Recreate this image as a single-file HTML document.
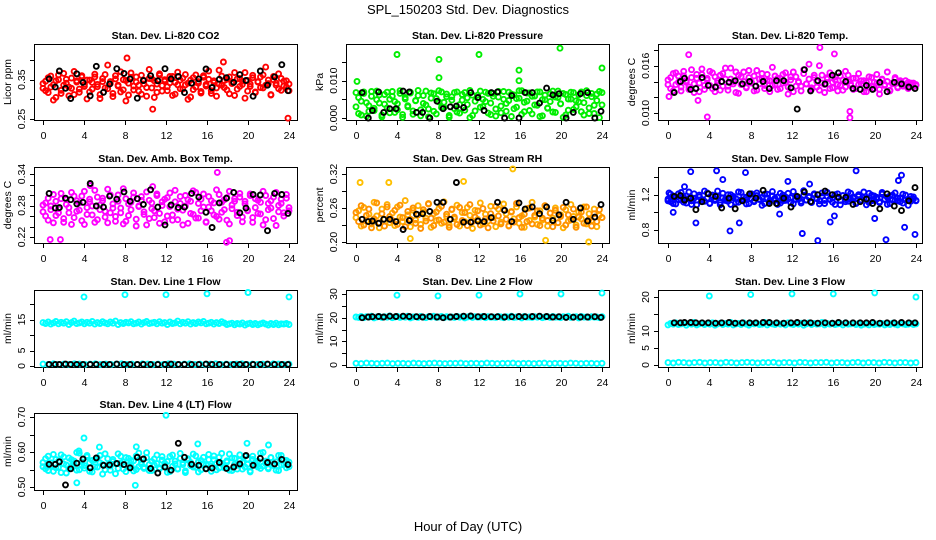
<!DOCTYPE html>
<html><head><meta charset="utf-8">
<style>
html,body{margin:0;padding:0;background:#fff;}
svg{display:block;font-family:"Liberation Sans",Arial,sans-serif;}
</style></head>
<body>
<svg id="chart" width="936" height="540" viewBox="0 0 936 540">
<rect width="936" height="540" fill="#fff"/>
<text x="468" y="14" text-anchor="middle" font-size="13">SPL_150203  Std. Dev. Diagnostics</text>
<text x="468" y="531" text-anchor="middle" font-size="13">Hour of Day (UTC)</text>
</svg>
<script>
// ---------- shared categories ----------
const xTicks = [0,4,8,12,16,20,24];
const blackHours = [0.6,1.2,1.6,2.2,2.7,3.3,3.9,4.6,5.2,5.9,6.5,7.2,7.9,8.5,9.2,9.8,10.5,11.2,11.9,12.5,13.2,13.8,14.5,15.2,15.9,16.5,17.2,17.9,18.6,19.2,19.8,20.5,21.2,21.9,22.6,23.3,23.9];
const mainHours = Array.from({length:96},(_, i)=>i*24/95);
const lowHours = Array.from({length:48},(_, i)=>i*24/47);
const spikeHours = [4,8,12,16,20,24];

// ---------- Panel 1: CO2 (x1000 ppm) ----------
const co2A = [340,322,355,331,298,347,362,315,336,351,309,328,371,344,318,357,333,301,349,326,364,338,312,353,329,387,345,307,360,334,319,350,296,341,367,324,357,336,313,348,330,376,352,305,339,361,321,346,332,358,310,343,369,327,354,337,300,349,325,362,341,316,356,334,372,322,347,308,339,359,330,351,314,344,368,326,353,338,303,348,333,361,319,345,357,329,382,340,311,350,336,365,323,346,331,339];
const co2B = [328,346,317,359,337,305,350,323,366,341,331,354,312,347,326,360,338,349,319,343,357,332,302,345,363,327,340,315,352,336,370,324,348,311,356,334,344,321,361,339,308,353,329,347,318,365,335,350,322,342,358,313,337,349,326,363,341,306,355,331,345,320,360,338,351,315,343,329,374,336,348,324,357,340,310,352,333,346,368,321,339,355,317,344,330,362,336,349,312,358,341,327,353,334,347,322];
const co2K = [352,331,372,328,302,365,343,309,384,318,339,378,366,352,303,348,360,347,378,352,358,317,341,352,377,330,351,355,343,363,348,308,372,336,357,388,322];
const co2OutH = [10.7,23.9,8.2,17.6];
const co2OutV = [275,252,405,395];

// ---------- Panel 2: Pressure (x1e-4 kPa) ----------
const presA = [68,12,45,70,5,33,58,20,72,40,8,63,27,50,71,15,38,66,2,55,30,69,10,47,74,22,60,35,3,67,18,52,73,28,42,64,7,57,25,70,13,48,68,36,1,61,19,54,72,31,44,66,9,58,24,71,14,50,39,69,4,62,29,53,73,17,45,67,11,59,34,70,6,49,26,65,16,56,72,38,2,63,21,51,68,30,43,70,8,60,27,66,12,47,71,35];
const presB = [30,55,8,66,41,18,71,26,49,62,3,37,69,14,58,44,22,73,9,51,33,67,19,46,60,6,39,72,24,53,65,11,43,70,28,57,2,48,68,16,36,63,21,54,74,7,45,61,29,50,69,13,40,66,5,56,32,71,18,47,64,25,52,73,10,42,67,20,58,35,70,4,49,61,27,44,72,15,55,38,66,8,51,69,23,46,62,17,41,73,12,57,34,64,1,68];
const presK = [68,0,20,70,15,25,25,72,70,15,15,0,45,25,30,32,28,68,55,20,68,70,0,60,0,68,68,40,80,62,65,0,15,65,68,0,18];
const presOutH = [0.1,4,8.1,8.1,12,15.9,15.9,19.9,24];
const presOutV = [98,170,157,108,170,128,100,187,134];

// ---------- Panel 3: Li-820 Temp (x1e-4 C) ----------
const tempA = [142,131,150,136,147,128,153,139,133,145,126,149,138,156,130,144,135,151,127,141,148,134,157,129,143,137,152,125,146,140,132,154,138,147,129,143,150,135,141,127,158,136,144,131,149,139,124,146,152,134,140,128,155,137,143,130,148,133,160,138,126,145,151,132,142,136,147,129,153,140,135,144,131,150,137,141,127,146,134,139,149,130,143,136,152,128,138,145,133,141,137,134,139,136,138,135];
const tempB = [136,145,128,151,139,133,147,141,130,155,137,144,127,149,135,142,153,131,146,138,129,150,143,134,157,140,126,148,136,152,133,145,139,128,154,137,143,131,149,141,135,147,130,144,138,151,133,142,127,146,139,134,150,137,162,132,145,140,129,148,136,143,131,139,146,128,135,142,133,148,137,130,144,136,141,127,139,133,145,131,138,124,142,135,140,129,137,143,132,139,134,141,131,138,133,136];
const tempK = [126,140,144,130,131,145,135,133,140,139,141,137,140,134,140,131,141,141,132,105,155,128,141,137,148,151,140,131,130,135,130,139,127,139,137,133,131];
const tempOutH = [0.1,2,2.9,3.8,14.7,16.1,17.6,17.6];
const tempOutV = [121,174,116,95,183,175,102,94];

// ---------- Panel 4: Amb Box Temp (x1e-3 C) ----------
const ambA = [268,285,252,279,301,261,274,293,248,282,266,305,257,289,271,298,244,276,287,262,309,253,281,294,269,247,300,275,259,288,266,312,250,283,272,296,241,278,290,263,306,255,285,270,299,246,280,292,260,304,252,287,273,297,243,279,291,265,308,256,284,270,302,249,277,289,262,310,254,286,272,295,245,281,293,267,303,258,288,271,299,248,276,290,264,307,253,284,275,296,242,280,292,266,301,270];
const ambB = [281,260,294,272,247,288,266,303,255,291,276,244,298,269,285,251,307,263,292,279,248,296,272,289,258,311,266,283,250,300,275,245,293,261,286,304,254,279,297,268,243,290,274,257,302,265,287,249,295,278,262,309,253,284,271,299,246,288,263,305,256,292,277,248,297,270,285,259,301,267,291,252,307,274,288,261,296,249,283,270,302,257,293,265,286,243,299,272,289,255,305,268,284,260,294,276];
const ambK = [303,275,276,294,291,283,286,322,279,277,298,292,306,288,293,282,310,277,243,281,276,277,303,296,267,238,285,294,305,266,275,301,300,232,303,301,265];
const ambOutH = [0.7,1.7,17,17.9,18.2,4.6,10.7];
const ambOutV = [215,215,343,210,213,318,316];

// ---------- Panel 5: Gas Stream RH (x1e-3 %) ----------
const rhA = [243,255,228,261,237,249,232,270,246,225,258,240,266,234,251,229,262,244,236,273,248,227,256,239,264,231,253,242,268,226,250,238,259,233,271,245,230,257,241,265,228,252,236,261,247,224,256,240,269,232,249,237,263,243,227,258,235,267,250,229,254,241,262,233,246,226,259,238,270,244,231,255,239,264,228,251,242,260,234,248,225,257,237,266,245,230,253,241,262,232,250,238,258,227,247,243];
const rhB = [252,236,264,230,247,258,225,241,269,234,250,228,262,245,238,256,231,265,243,227,254,240,260,233,248,224,257,237,267,242,229,253,239,263,235,249,226,258,244,231,261,238,252,229,266,236,244,255,230,259,241,225,250,237,263,246,232,257,240,228,253,235,268,243,226,249,236,260,232,247,255,229,242,264,238,251,227,256,234,245,261,230,248,239,258,226,244,253,233,262,240,228,250,236,257,243];
const rhK = [240,236,237,233,240,240,236,222,238,249,250,254,270,270,240,305,235,235,237,236,243,270,256,236,269,258,262,250,262,238,248,270,240,260,237,244,266];
const rhOutH = [0.4,3.2,10.5,15.3,22.7,18.5,5.3];
const rhOutV = [305,305,307,329,200,203,206];

// ---------- Panel 6: Sample Flow (x1e-3 ml/min) ----------
const flowA = [1150,1120,1185,1095,1210,1140,1170,1105,1230,1130,1160,1085,1195,1145,1125,1220,1100,1175,1150,1240,1110,1165,1135,1200,1090,1180,1155,1115,1225,1140,1170,1100,1210,1130,1190,1150,1080,1205,1160,1120,1235,1145,1175,1105,1195,1135,1215,1165,1095,1185,1150,1125,1245,1140,1170,1110,1200,1155,1130,1220,1100,1180,1145,1165,1090,1210,1135,1190,1120,1230,1150,1175,1105,1200,1140,1160,1085,1215,1130,1185,1150,1110,1225,1145,1170,1100,1195,1135,1160,1120,1205,1140,1080,1180,1150,1130];
const flowB = [1130,1205,1100,1170,1145,1225,1115,1185,1155,1090,1210,1140,1175,1120,1240,1160,1105,1195,1135,1180,1085,1215,1150,1125,1200,1165,1110,1230,1140,1175,1095,1190,1155,1120,1220,1145,1170,1100,1205,1135,1185,1160,1090,1215,1130,1175,1150,1110,1235,1145,1165,1105,1195,1140,1180,1120,1210,1155,1095,1185,1135,1225,1150,1115,1200,1170,1085,1190,1145,1125,1215,1160,1100,1180,1140,1230,1155,1110,1195,1135,1170,1120,1205,1150,1090,1185,1140,1220,1130,1165,1105,1195,1150,1125,1175,1135];
const flowK = [1180,1190,1140,1160,1030,1120,1210,1180,1050,1160,1040,1130,1210,1160,1250,1100,1100,1160,1060,1180,1230,1120,1200,1240,1200,1170,1170,1090,1120,1150,1100,1040,1210,1070,1020,1130,1280];
const flowOutH = [0.1,0.5,1.6,2.2,2.7,4.7,5.3,6,6.9,7.5,10.8,11.6,13,13.7,14.5,15.7,16.1,18.2,20,21.1,22.3,22.6,22.9,23.9];
const flowOutV = [1220,1000,1290,1460,880,1470,1370,790,880,1450,980,1350,760,1320,680,890,960,1470,930,690,1360,1420,830,750];

// ---------- Panels 7-9: Line flows (x0.1 ml/min) ----------
const line1A = [140,137,142,135,139,144,136,141,138,143,134,140,145,137,139,142,136,141,138,144,135,140,137,143,139,136,142,138,145,134,140,137,141,139,143,136,138,142,135,140,144,137,139,141,136,143,138,140,134,142,137,139,145,136,141,138,143,135,140,137,142,139,144,136,138,141,135,140,137,143,139,134,136,138,133,137,135,139,132,136,138,134,137,133,136,139,135,132,137,134,138,133,136,135,137,134];
const line1Low = [6,5,7,5,6,5,7,6,5,6,7,5,6,5,6,7,5,6,5,7,6,5,6,5,7,6,5,6,7,5,6,5,6,7,5,6,5,6,7,5,6,5,6,5,7,6,5,6];
const line1K = [5,5,5,6,5,5,5,5,5,5,5,6,5,5,5,5,5,5,5,6,5,5,5,5,6,5,5,5,5,5,5,5,5,6,5,5,5];
const line1Spike = [223,230,230,233,237,223];

const line2A = [203,201,205,200,204,202,206,199,203,205,201,204,202,207,200,203,205,201,204,202,206,199,203,204,201,205,202,200,204,203,206,201,203,205,200,204,202,203,201,205,202,204,199,203,206,201,204,202,203,205,200,204,202,203,201,205,203,200,204,202,206,201,203,204,199,205,202,203,201,204,202,205,200,203,204,201,205,202,203,200,204,202,206,201,203,204,199,205,202,203,201,204,202,203,200,204];
const line2Low = [7,6,8,7,6,7,8,6,7,7,6,8,7,6,7,8,7,6,7,7,8,6,7,7,6,8,7,6,7,7,8,6,7,7,6,7,8,6,7,7,6,8,7,6,7,7,6,7];
const line2K = [200,203,204,205,203,206,205,206,205,204,203,205,203,200,203,205,206,207,204,205,204,204,203,204,205,204,205,206,205,203,204,201,202,203,203,204,201];
const line2Spike = [295,292,295,300,300,304];

const line3A = [118,122,120,124,119,121,123,117,122,120,125,118,121,123,119,122,120,124,117,121,123,119,122,120,125,118,121,122,119,124,120,117,122,121,123,119,120,125,118,122,121,119,123,120,122,118,124,121,119,122,120,123,117,121,124,119,122,120,121,125,118,122,120,123,119,121,122,118,124,120,121,123,119,122,117,120,121,118,123,119,121,120,122,118,121,119,123,120,118,122,121,119,120,122,119,121];
const line3Low = [7,6,8,7,6,7,8,6,7,7,6,8,7,6,7,8,7,6,7,7,8,6,7,7,6,8,7,6,7,7,8,6,7,7,6,7,8,6,7,7,6,8,7,6,7,7,6,7];
const line3K = [124,124,125,125,124,124,124,123,124,125,123,124,124,124,125,125,124,123,124,125,124,124,123,124,123,125,124,124,124,124,125,123,124,124,125,124,124];
const line3Spike = [203,207,209,209,212,200];

// ---------- Panel 10: Line 4 (LT) Flow (x1e-3 ml/min) ----------
const line4A = [570,552,588,561,545,579,556,592,566,540,583,559,574,548,597,563,554,586,569,543,578,557,590,565,549,581,560,573,538,595,568,551,584,562,576,546,589,558,571,553,598,564,547,580,567,555,587,560,573,544,591,566,552,582,569,541,577,561,594,556,572,549,585,563,578,545,589,568,554,596,560,575,548,583,565,551,592,570,557,580,546,588,562,574,553,599,567,555,584,561,572,547,590,564,576,558];
const line4B = [558,581,547,569,593,555,574,541,586,563,552,578,566,599,549,572,561,590,545,576,558,583,569,537,595,562,548,579,567,553,588,571,544,582,560,575,550,597,565,556,584,547,573,563,591,552,577,568,542,587,559,574,551,596,564,546,581,570,557,589,543,576,566,553,593,560,578,549,585,568,555,571,594,547,582,562,576,551,588,565,543,579,570,557,597,560,574,552,584,566,548,590,563,577,555,571];
const line4K = [565,565,572,506,552,568,580,555,583,562,563,567,564,555,585,580,553,540,557,548,625,585,565,562,552,554,570,553,557,566,590,562,582,570,566,579,564];
const line4OutH = [4,12,15.1,19.9,22,3.5,9.1,5.5,9,3.3];
const line4OutV = [640,705,623,625,620,603,615,614,505,512];

// ---------- rendering ----------
const NS = 'http://www.w3.org/2000/svg';
const svg = document.getElementById('chart');
const colBoxL = [34,346,658], colBoxR = [297,609,922];
const colX0 = [43,356,668], colX24 = [289,602,916];
const rowTop = [44,167,290,413], rowBot = [120,243,367,490];

function mk(tag, attrs, parent){
  const e = document.createElementNS(NS, tag);
  for (const k in attrs) e.setAttribute(k, attrs[k]);
  (parent||svg).appendChild(e);
  return e;
}

function panel(cfg){
  const c = cfg.col, r = cfg.row;
  const g = mk('g', {});
  
  
  const top = rowTop[r];
  const xs = h => colX0[c] + (colX24[c]-colX0[c]) * h / 24;
  const ys = v => (top + cfg.pA) + (v - cfg.vA) * ((cfg.pB - cfg.pA) / (cfg.vB - cfg.vA));
  const L = colBoxL[c], R = colBoxR[c], T = top, B = rowBot[r];

  const box = mk('rect', {x:L+0.5, y:T+0.5, width:R-L, height:B-T, fill:'none', stroke:'#000', 'stroke-width':1}, g);
  
  

  const title = mk('text', {x:(L+R)/2, y:T-5, 'text-anchor':'middle', 'font-size':10.5, 'font-weight':'bold'}, g);
  title.textContent = cfg.title;
  
  

  const yt = mk('text', {transform:`translate(${L-23},${(T+B)/2}) rotate(-90)`, 'text-anchor':'middle', 'font-size':10.5}, g);
  yt.textContent = cfg.ylab;
  
  

  xTicks.forEach(t => {
    const x = Math.round(xs(t)) + 0.5;
    const tk = mk('line', {x1:x, x2:x, y1:B, y2:B+5, stroke:'#000'}, g);
    
    
    const tl = mk('text', {x:x, y:B+19, 'text-anchor':'middle', 'font-size':10.5}, g);
    tl.textContent = t;
    
    
  });
  cfg.yTicks.forEach(t => {
    const y = Math.round(ys(t)) + 0.5;
    const tk = mk('line', {x1:L-4, x2:L, y1:y, y2:y, stroke:'#000'}, g);
    
    
  });
  cfg.yLabels.forEach((lab, i) => {
    const y = ys(cfg.yLabelVals[i]);
    const tl = mk('text', {transform:`translate(${L-9},${y}) rotate(-90)`, 'text-anchor':'middle', 'font-size':10.5}, g);
    tl.textContent = lab;
    
    
  });

  cfg.series.forEach(s => {
    const sg = mk('g', {fill:'none', stroke:s.color, 'stroke-width':1.9}, g);
    
    
    s.vals.forEach((v, i) => {
      const pt = mk('circle', {cx:xs(s.hours[i]).toFixed(1), cy:ys(v * s.k).toFixed(1), r:2.5}, sg);
      
      
    });
  });
}

panel({name:'co2', col:0,row:0, title:'Stan. Dev. Li-820 CO2', ylab:'Licor ppm',
  vA:0.25,pA:75,vB:0.40,pB:16, yTicks:[0.25,0.30,0.35,0.40], yLabels:['0.25','0.35'], yLabelVals:[0.25,0.35],
  series:[{id:'a',color:'#ff0000',hours:mainHours,vals:co2A,k:0.001},{id:'b',color:'#ff0000',hours:mainHours,vals:co2B,k:0.001},
          {id:'outliers',color:'#ff0000',hours:co2OutH,vals:co2OutV,k:0.001},{id:'black',color:'#000',hours:blackHours,vals:co2K,k:0.001}]});
panel({name:'pressure', col:1,row:0, title:'Stan. Dev. Li-820 Pressure', ylab:'kPa',
  vA:0,pA:74,vB:0.015,pB:18, yTicks:[0,0.005,0.010,0.015], yLabels:['0.000','0.010'], yLabelVals:[0,0.010],
  series:[{id:'a',color:'#00ee00',hours:mainHours,vals:presA,k:1e-4},{id:'b',color:'#00ee00',hours:mainHours,vals:presB,k:1e-4},
          {id:'outliers',color:'#00ee00',hours:presOutH,vals:presOutV,k:1e-4},{id:'black',color:'#000',hours:blackHours,vals:presK,k:1e-4}]});
panel({name:'li820-temp', col:2,row:0, title:'Stan. Dev. Li-820 Temp.', ylab:'degrees C',
  vA:0.010,pA:69,vB:0.018,pB:6, yTicks:[0.010,0.012,0.014,0.016,0.018], yLabels:['0.010','0.016'], yLabelVals:[0.010,0.016],
  series:[{id:'a',color:'#ff00ff',hours:mainHours,vals:tempA,k:1e-4},{id:'b',color:'#ff00ff',hours:mainHours,vals:tempB,k:1e-4},
          {id:'outliers',color:'#ff00ff',hours:tempOutH,vals:tempOutV,k:1e-4},{id:'black',color:'#000',hours:blackHours,vals:tempK,k:1e-4}]});
panel({name:'amb-temp', col:0,row:1, title:'Stan. Dev. Amb. Box Temp.', ylab:'degrees C',
  vA:0.22,pA:70,vB:0.34,pB:7, yTicks:[0.22,0.24,0.26,0.28,0.30,0.32,0.34], yLabels:['0.22','0.28','0.34'], yLabelVals:[0.22,0.28,0.34],
  series:[{id:'a',color:'#ff00ff',hours:mainHours,vals:ambA,k:0.001},{id:'b',color:'#ff00ff',hours:mainHours,vals:ambB,k:0.001},
          {id:'outliers',color:'#ff00ff',hours:ambOutH,vals:ambOutV,k:0.001},{id:'black',color:'#000',hours:blackHours,vals:ambK,k:0.001}]});
panel({name:'gas-rh', col:1,row:1, title:'Stan. Dev. Gas Stream RH', ylab:'percent',
  vA:0.20,pA:75,vB:0.32,pB:7, yTicks:[0.20,0.23,0.26,0.29,0.32], yLabels:['0.20','0.26','0.32'], yLabelVals:[0.20,0.26,0.32],
  series:[{id:'a',color:'#ffb000',hours:mainHours,vals:rhA,k:0.001},{id:'b',color:'#ff9000',hours:mainHours,vals:rhB,k:0.001},
          {id:'outliers',color:'#ffc000',hours:rhOutH,vals:rhOutV,k:0.001},{id:'black',color:'#000',hours:blackHours,vals:rhK,k:0.001}]});
panel({name:'sample-flow', col:2,row:1, title:'Stan. Dev. Sample Flow', ylab:'ml/min',
  vA:0.8,pA:63,vB:1.4,pB:10, yTicks:[0.8,1.0,1.2,1.4], yLabels:['0.8','1.2'], yLabelVals:[0.8,1.2],
  series:[{id:'a',color:'#0000ff',hours:mainHours,vals:flowA,k:0.001},{id:'b',color:'#0000ff',hours:mainHours,vals:flowB,k:0.001},
          {id:'outliers',color:'#0000ff',hours:flowOutH,vals:flowOutV,k:0.001},{id:'black',color:'#000',hours:blackHours,vals:flowK,k:0.001}]});
panel({name:'line1-flow', col:0,row:2, title:'Stan. Dev. Line 1 Flow', ylab:'ml/min',
  vA:0,pA:76,vB:20,pB:14, yTicks:[0,5,10,15,20], yLabels:['0','5','15'], yLabelVals:[0,5,15],
  series:[{id:'band',color:'#00ffff',hours:mainHours,vals:line1A,k:0.1},{id:'low',color:'#00ffff',hours:lowHours,vals:line1Low,k:0.1},
          {id:'spikes',color:'#00ffff',hours:spikeHours,vals:line1Spike,k:0.1},{id:'black',color:'#000',hours:blackHours,vals:line1K,k:0.1}]});
panel({name:'line2-flow', col:1,row:2, title:'Stan. Dev. Line 2 Flow', ylab:'ml/min',
  vA:0,pA:75,vB:30,pB:4, yTicks:[0,5,10,15,20,25,30], yLabels:['0','10','20','30'], yLabelVals:[0,10,20,30],
  series:[{id:'band',color:'#00ffff',hours:mainHours,vals:line2A,k:0.1},{id:'low',color:'#00ffff',hours:lowHours,vals:line2Low,k:0.1},
          {id:'spikes',color:'#00ffff',hours:spikeHours,vals:line2Spike,k:0.1},{id:'black',color:'#000',hours:blackHours,vals:line2K,k:0.1}]});
panel({name:'line3-flow', col:2,row:2, title:'Stan. Dev. Line 3 Flow', ylab:'ml/min',
  vA:0,pA:75,vB:20,pB:7, yTicks:[0,5,10,15,20], yLabels:['0','5','10','20'], yLabelVals:[0,5,10,20],
  series:[{id:'band',color:'#00ffff',hours:mainHours,vals:line3A,k:0.1},{id:'low',color:'#00ffff',hours:lowHours,vals:line3Low,k:0.1},
          {id:'spikes',color:'#00ffff',hours:spikeHours,vals:line3Spike,k:0.1},{id:'black',color:'#000',hours:blackHours,vals:line3K,k:0.1}]});
panel({name:'line4-flow', col:0,row:3, title:'Stan. Dev. Line 4 (LT) Flow', ylab:'ml/min',
  vA:0.50,pA:74,vB:0.70,pB:4, yTicks:[0.50,0.55,0.60,0.65,0.70], yLabels:['0.50','0.60','0.70'], yLabelVals:[0.50,0.60,0.70],
  series:[{id:'a',color:'#00ffff',hours:mainHours,vals:line4A,k:0.001},{id:'b',color:'#00ffff',hours:mainHours,vals:line4B,k:0.001},
          {id:'outliers',color:'#00ffff',hours:line4OutH,vals:line4OutV,k:0.001},{id:'black',color:'#000',hours:blackHours,vals:line4K,k:0.001}]});
</script>
</body></html>
